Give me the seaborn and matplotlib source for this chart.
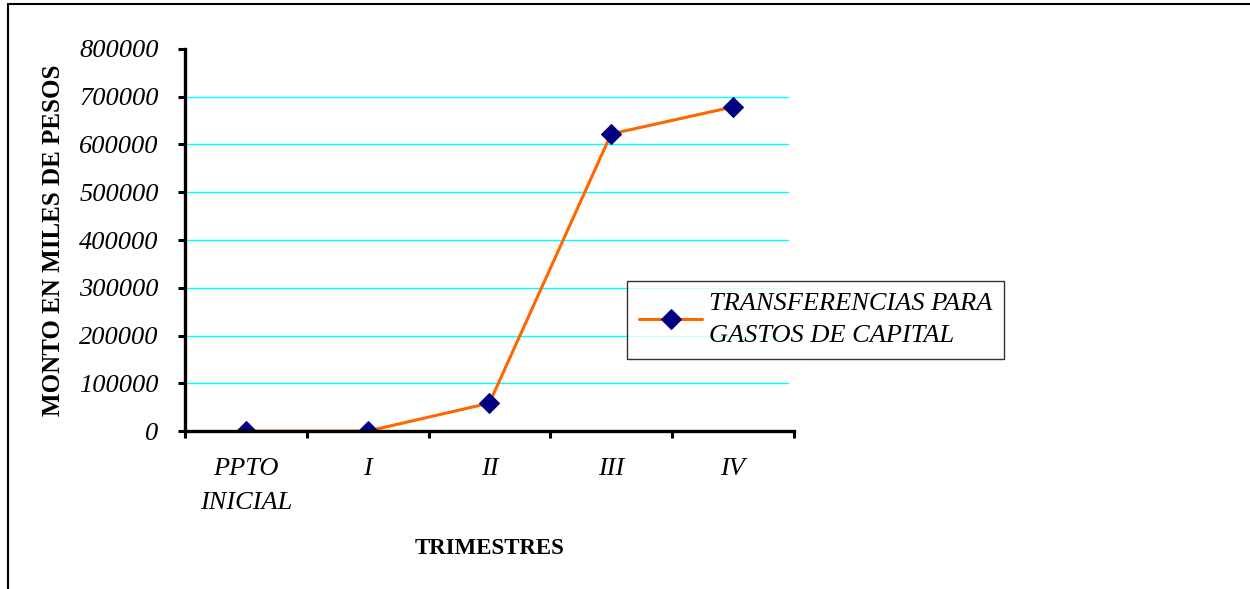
import matplotlib
matplotlib.use('Agg')
import matplotlib.pyplot as plt
import seaborn as sns
import pandas as pd
from matplotlib.lines import Line2D

# 数据
trimestres = ['PPTO\nINICIAL', 'I', 'II', 'III', 'IV']
montos = [0, 0, 58600, 622000, 678500]
serie = 'TRANSFERENCIAS PARA\nGASTOS DE CAPITAL'
yticks = [0, 100000, 200000, 300000, 400000, 500000, 600000, 700000, 800000]

df = pd.DataFrame({'trimestre': trimestres, 'monto': montos})

sns.set_theme(style='white')
plt.rcParams['font.family'] = ['Liberation Serif', 'DejaVu Serif']
plt.rcParams['text.color'] = 'black'
plt.rcParams['axes.labelcolor'] = 'black'
plt.rcParams['xtick.color'] = 'black'
plt.rcParams['ytick.color'] = 'black'

fig = plt.figure(figsize=(12.5, 5.89), dpi=100)
ax = fig.add_axes([0.148, 0.268, 0.487, 0.649])

sns.lineplot(data=df, x='trimestre', y='monto', ax=ax, sort=False,
             color='#FF6600', linewidth=2.2, marker='D', markersize=10,
             markerfacecolor='#000080', markeredgecolor='#000080',
             label=serie, zorder=3)

ax.set_xlim(-0.5, len(trimestres) - 0.5)
ax.set_ylim(0, 800000)
ax.set_yticks(yticks)
ax.set_yticklabels([str(v) for v in yticks], fontsize=19, fontstyle='italic')
ax.set_xticks(range(len(trimestres)))
ax.set_xticklabels(trimestres, fontsize=19, fontstyle='italic', linespacing=1.75)
ax.set_xticks([i - 0.5 for i in range(len(trimestres) + 1)], minor=True)

ax.tick_params(axis='x', which='major', length=0, pad=19)
ax.tick_params(axis='x', which='minor', length=5, width=2.2, direction='out', color='black', bottom=True)
ax.tick_params(axis='y', length=5, width=2.2, direction='out', color='black', left=True, pad=14)

for s in ['top', 'right']:
    ax.spines[s].set_visible(False)
for s in ['left', 'bottom']:
    ax.spines[s].set_color('black')
    ax.spines[s].set_linewidth(2.4)
    ax.spines[s].set_zorder(4)

for v in yticks[1:-1]:
    ax.plot([-0.5, 4.45], [v, v], color='#00FFFF', linewidth=1, zorder=1)

ax.set_ylabel('MONTO EN MILES DE PESOS', fontsize=18, fontweight='bold', labelpad=10)
ax.set_xlabel('TRIMESTRES', fontsize=16.5, fontweight='bold', labelpad=17)

leg = ax.legend(loc='upper left', bbox_to_anchor=(627 / 1250, 1 - 281 / 589),
                bbox_transform=fig.transFigure, fontsize=19, fancybox=False,
                frameon=True, handlelength=2.4, handletextpad=0.25,
                borderpad=0.45, borderaxespad=0)
for t in leg.get_texts():
    t.set_fontstyle('italic')
    t.set_linespacing(1.6)
leg.get_frame().set_edgecolor('black')
leg.get_frame().set_linewidth(1)

# 外框
fig.add_artist(Line2D([8 / 1250, 1.0], [1 - 4 / 589, 1 - 4 / 589], color='black', linewidth=1.5, transform=fig.transFigure))
fig.add_artist(Line2D([8 / 1250, 8 / 1250], [0, 1 - 4 / 589], color='black', linewidth=1.5, transform=fig.transFigure))

fig.savefig('out.png', dpi=100)
